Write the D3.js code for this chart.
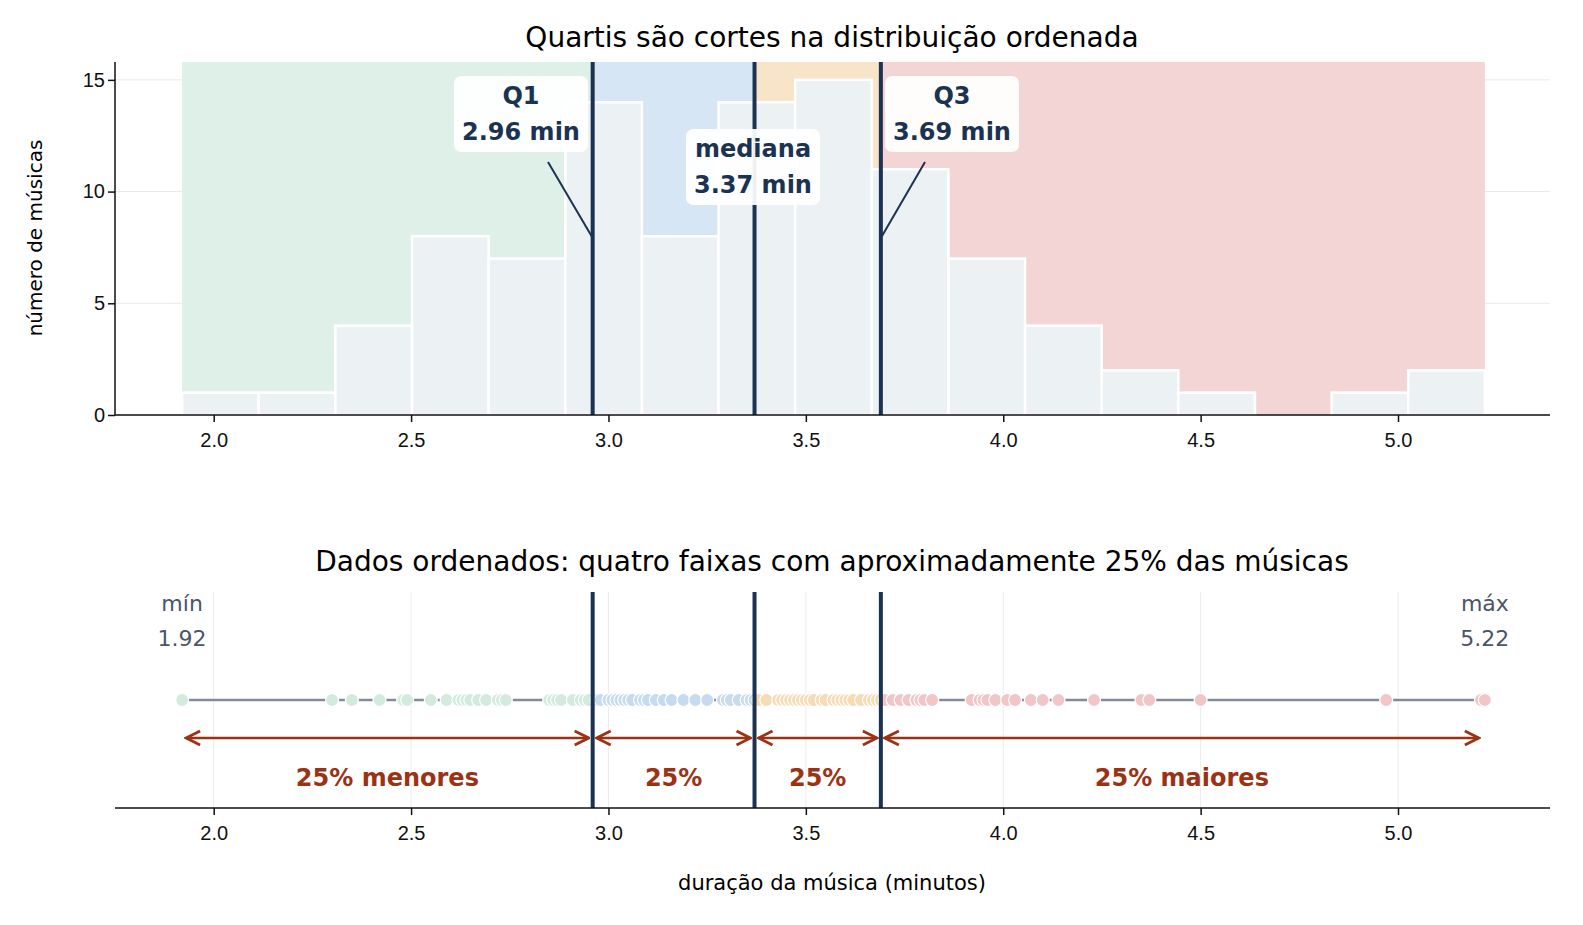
<!DOCTYPE html>
<html><head><meta charset="utf-8">
<script src="https://cdn.jsdelivr.net/npm/d3@7"></script>
<style>body{margin:0;background:#fff}svg{font-family:"DejaVu Sans",sans-serif}</style>
</head><body><svg id="chart" width="1583" height="925"></svg>
<script>
// durações (min), 100 músicas
const durations = [1.92, 2.30, 2.35, 2.42, 2.48, 2.49,
  2.55, 2.59, 2.62, 2.63, 2.64, 2.65, 2.67, 2.69,
  2.72, 2.73, 2.74, 2.85, 2.86, 2.87, 2.88,
  2.91, 2.93, 2.94, 2.95, 2.97, 2.98, 3.00, 3.01, 3.02, 3.03, 3.04, 3.05, 3.06, 3.08,
  3.09, 3.10, 3.12, 3.14, 3.16, 3.19, 3.22, 3.25,
  3.29, 3.30, 3.31, 3.33, 3.35, 3.36, 3.37, 3.38, 3.40, 3.43, 3.44, 3.45, 3.46, 3.47,
  3.48, 3.49, 3.50, 3.51, 3.52, 3.54, 3.55, 3.57, 3.58, 3.59, 3.60, 3.61, 3.62, 3.64, 3.66,
  3.67, 3.68, 3.69, 3.70, 3.72, 3.74, 3.76, 3.78, 3.79, 3.80, 3.82,
  3.92, 3.94, 3.95, 3.96, 3.98, 4.01, 4.03,
  4.07, 4.10, 4.14, 4.23, 4.35, 4.37, 4.50, 4.97, 5.21, 5.22];
const binCounts = [1, 1, 4, 8, 7, 14, 8, 14, 15, 11, 7, 4, 2, 1, 0, 1, 2];
const quartiles = [2.96, 3.37, 3.69];
const quartileLabels = ["Q1", "mediana", "Q3"];
const bandLabels = ["25% menores", "25%", "25%", "25% maiores"];
const bandColors = ["#dff0e8", "#d7e6f4", "#f8e4c8", "#f4d5d6"];
const dotColors = ["#d3ebdf", "#c6dbef", "#f6dbb4", "#f1c6c9"];
const xTicks = [2.0, 2.5, 3.0, 3.5, 4.0, 4.5, 5.0];
const yTicks = [0, 5, 10, 15];

const svg = d3.select("#chart");
const minV = d3.min(durations), maxV = d3.max(durations);
const x = d3.scaleLinear().domain([1.75, 5.385]).range([115, 1550]);
const y = d3.scaleLinear().domain([0, 15.8]).range([415, 62]);
const dark = "#1b3350", red = "#9c3214";
const edges = [minV, ...quartiles, maxV];
const binW = (maxV - minV) / binCounts.length;

// --- painel superior
const topG = svg.append("g");
topG.selectAll("line.g").data(yTicks).join("line")
  .attr("x1", 115).attr("x2", 1550).attr("y1", y).attr("y2", y)
  .attr("stroke", "#e8e8e8").attr("stroke-width", 1);
topG.selectAll("rect.band").data(d3.range(4)).join("rect")
  .attr("x", i => x(edges[i])).attr("width", i => x(edges[i + 1]) - x(edges[i]))
  .attr("y", y(15.8)).attr("height", y(0) - y(15.8)).attr("fill", i => bandColors[i]);
topG.selectAll("rect.bar").data(binCounts).join("rect")
  .attr("x", (d, i) => x(minV + i * binW)).attr("width", x(minV + binW) - x(minV))
  .attr("y", d => y(d)).attr("height", d => y(0) - y(d))
  .attr("fill", "#ecf1f4").attr("stroke", "#fff").attr("stroke-width", 2.5)
  .attr("display", d => d ? null : "none");
topG.selectAll("line.q").data(quartiles).join("line")
  .attr("x1", x).attr("x2", x).attr("y1", 62).attr("y2", 415)
  .attr("stroke", dark).attr("stroke-width", 4);

const ax1 = topG.append("g").attr("transform", "translate(0,415)")
  .call(d3.axisBottom(x).tickValues(xTicks).tickFormat(d3.format(".1f")).tickSize(7));
const ay1 = topG.append("g").attr("transform", "translate(115,0)")
  .call(d3.axisLeft(y).tickValues(yTicks).tickSize(7));
[ax1, ay1].forEach(a => { a.selectAll("text").attr("font-size", 20).attr("fill", "#111");
  a.selectAll("line,path").attr("stroke", "#111").attr("stroke-width", 1.5); });
ax1.selectAll("text").attr("dy", "1.1em");
ay1.select(".domain").attr("d", "M0,415V62");
ax1.select(".domain").attr("d", "M115,0H1550");

svg.append("text").attr("x", 832).attr("y", 47).attr("text-anchor", "middle")
  .attr("font-size", 28).text("Quartis são cortes na distribuição ordenada");
svg.append("text").attr("transform", "translate(42,238) rotate(-90)")
  .attr("text-anchor", "middle").attr("font-size", 20).text("número de músicas");

// anotações
const ann = [
  { cx: 521, cy: 114, lx: 548, ly: 162, tx: 2.96 },
  { cx: 753, cy: 167, lx: null },
  { cx: 952, cy: 114, lx: 925, ly: 162, tx: 3.69 }];
ann.forEach((a, i) => {
  if (a.lx) topG.append("line").attr("x1", a.lx).attr("y1", a.ly)
    .attr("x2", x(a.tx)).attr("y2", 238).attr("stroke", dark).attr("stroke-width", 2);
  const g = topG.append("g");
  const t = g.append("text").attr("text-anchor", "middle").attr("font-size", 24)
    .attr("font-weight", "bold").attr("fill", dark);
  t.append("tspan").attr("x", a.cx).attr("y", a.cy - 10).text(quartileLabels[i]);
  t.append("tspan").attr("x", a.cx).attr("y", a.cy + 26).text(quartiles[i].toFixed(2) + " min");
  const bb = t.node().getBBox();
  g.insert("rect", "text").attr("x", bb.x - 8).attr("y", bb.y - 6)
    .attr("width", bb.width + 16).attr("height", bb.height + 12).attr("rx", 7)
    .attr("fill", "#fff").attr("fill-opacity", 0.93);
});

// --- painel inferior
const bot = svg.append("g");
const yAx = 808, yDot = 700, yArr = 738;
bot.selectAll("line.g").data(xTicks).join("line")
  .attr("x1", x).attr("x2", x).attr("y1", 592).attr("y2", yAx)
  .attr("stroke", "#ececec").attr("stroke-width", 1);
bot.append("line").attr("x1", x(minV)).attr("x2", x(maxV)).attr("y1", yDot).attr("y2", yDot)
  .attr("stroke", "#7f8c9a").attr("stroke-width", 2.5);
const band = v => v <= quartiles[0] ? 0 : v <= quartiles[1] ? 1 : v <= quartiles[2] ? 2 : 3;
bot.selectAll("circle").data(durations).join("circle")
  .attr("cx", x).attr("cy", yDot).attr("r", 6.5)
  .attr("fill", d => dotColors[band(d)]).attr("stroke", "#fff").attr("stroke-width", 1.2);
bot.selectAll("line.q").data(quartiles).join("line")
  .attr("x1", x).attr("x2", x).attr("y1", 592).attr("y2", yAx)
  .attr("stroke", dark).attr("stroke-width", 4);

const defs = svg.append("defs");
defs.append("marker").attr("id", "ah").attr("viewBox", "0 0 10 10").attr("refX", 9).attr("refY", 5)
  .attr("markerWidth", 7).attr("markerHeight", 7).attr("orient", "auto-start-reverse")
  .append("path").attr("d", "M1,1L9,5L1,9").attr("fill", "none").attr("stroke", red).attr("stroke-width", 1.6);
d3.range(4).forEach(i => {
  const a = x(edges[i]) + 4, b = x(edges[i + 1]) - (i === 3 ? 6 : 4);
  bot.append("line").attr("x1", a).attr("x2", b).attr("y1", yArr).attr("y2", yArr)
    .attr("stroke", red).attr("stroke-width", 2.5)
    .attr("marker-start", "url(#ah)").attr("marker-end", "url(#ah)");
  bot.append("text").attr("x", (a + b) / 2).attr("y", yArr + 48).attr("text-anchor", "middle")
    .attr("font-size", 24).attr("font-weight", "bold").attr("fill", red).text(bandLabels[i]);
});
[["mín", minV], ["máx", maxV]].forEach(([l, v]) => {
  const t = bot.append("text").attr("text-anchor", "middle").attr("font-size", 22).attr("fill", "#4a5568");
  t.append("tspan").attr("x", x(v)).attr("y", 611).text(l);
  t.append("tspan").attr("x", x(v)).attr("y", 646).text(v.toFixed(2));
});

const ax2 = bot.append("g").attr("transform", `translate(0,${yAx})`)
  .call(d3.axisBottom(x).tickValues(xTicks).tickFormat(d3.format(".1f")).tickSize(7));
ax2.selectAll("text").attr("font-size", 20).attr("fill", "#111").attr("dy", "1.1em");
ax2.selectAll("line,path").attr("stroke", "#111").attr("stroke-width", 1.5);
ax2.select(".domain").attr("d", "M115,0H1550");

svg.append("text").attr("x", 832).attr("y", 571).attr("text-anchor", "middle")
  .attr("font-size", 28).text("Dados ordenados: quatro faixas com aproximadamente 25% das músicas");
svg.append("text").attr("x", 832).attr("y", 890).attr("text-anchor", "middle")
  .attr("font-size", 21).text("duração da música (minutos)");
</script></body></html>
